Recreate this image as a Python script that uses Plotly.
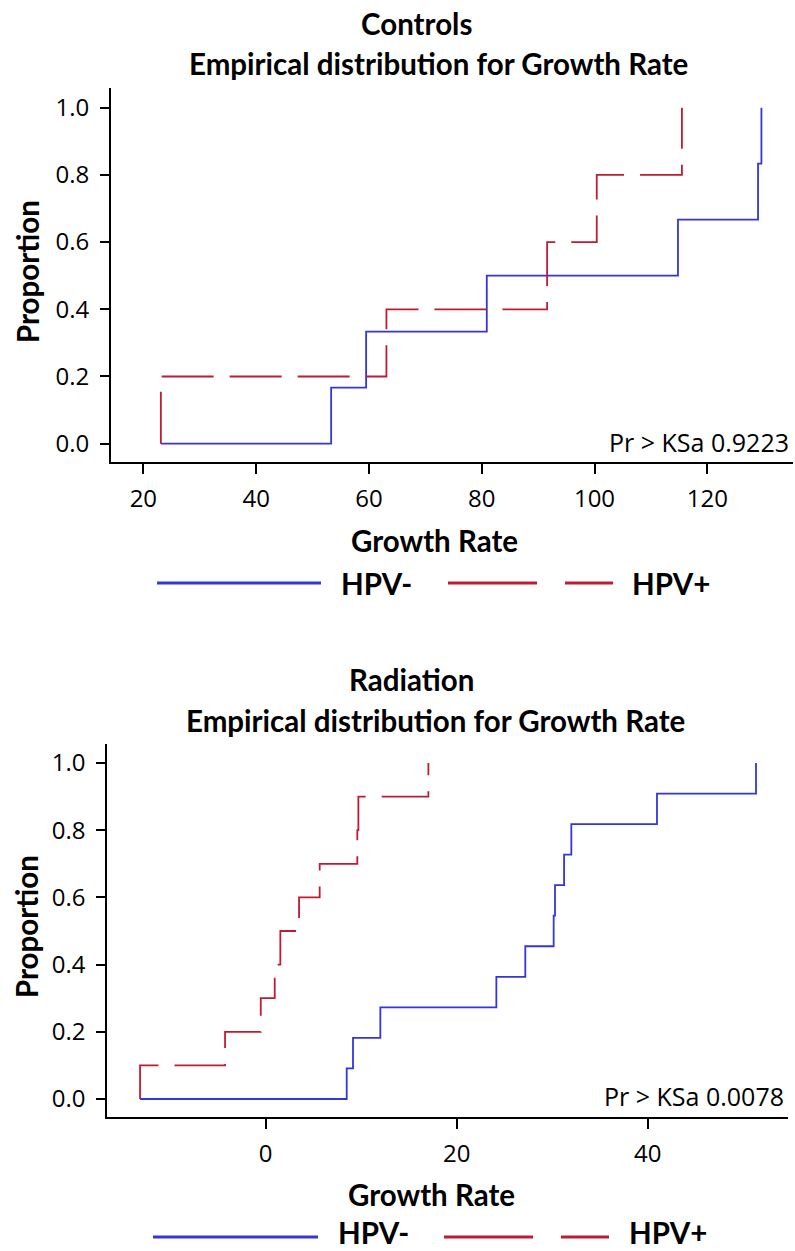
import plotly.graph_objects as go

# ---- data ----
groups = ["HPV-", "HPV+"]
ctrl_hpv_neg = [53.3, 59.5, 80.9, 114.8, 129.0, 129.6]
ctrl_hpv_pos = [23.1, 63.1, 91.6, 100.4, 115.5]
rad_hpv_neg = [8.48, 9.14, 12.0, 24.15, 27.18, 30.15, 30.29, 31.24, 32.0, 40.97, 51.34]
rad_hpv_pos = [-13.16, -4.26, -0.52, 0.94, 1.53, 3.49, 5.65, 9.59, 9.7, 17.03]
ctrl_xticks = [20, 40, 60, 80, 100, 120]
rad_xticks = [0, 20, 40]
yticks = [0.0, 0.2, 0.4, 0.6, 0.8, 1.0]
ks_ctrl = "Pr > KSa 0.9223"
ks_rad = "Pr > KSa 0.0078"

W, H = 795, 1251
BLUE = "#3535DC"
RED = "#C01B35"
TICKFONT = dict(family="Open Sans", size=24, color="black")
KSFONT = dict(family="Open Sans", size=25, color="black")
BOLD = "Lato"
BSIZE = 29.5


def ecdf(vals, start):
    v = sorted(vals)
    n = len(v)
    xs = [start] + v
    ys = [0.0] + [(i + 1) / n for i in range(n)]
    return xs, ys


def px(x):
    return x / W


def py(y):
    return 1 - y / H


fig = go.Figure()

panels = [
    dict(neg=ctrl_hpv_neg, pos=ctrl_hpv_pos, xa="x", ya="y", ticks=ctrl_xticks,
         xdom=(111, 793), ydom=(88, 462), xr=[14.26, 135.2], yr=[-0.0545, 1.0586],
         t1="Controls", t1y=23, t1x=416, t2y=63, t2x=438, gr_y=540, gr_x=434,
         prop_y=272, ks=ks_ctrl, ks_y=442, ks_x=791, leg_y=583, leg_txt_y=583,
         leg=(157, 321, 339, 448, 613, 630)),
    dict(neg=rad_hpv_neg, pos=rad_hpv_pos, xa="x2", ya="y2", ticks=rad_xticks,
         xdom=(107.3, 788.3), ydom=(744, 1117), xr=[-16.59, 54.72], yr=[-0.0536, 1.0565],
         t1="Radiation", t1y=679, t1x=411, t2y=720, t2x=435, gr_y=1194, gr_x=431,
         prop_y=927, ks=ks_rad, ks_y=1096, ks_x=786, leg_y=1237, leg_txt_y=1232,
         leg=(153, 318, 336, 444, 609, 627)),
]

for i, p in enumerate(panels):
    start = min(min(p["neg"]), min(p["pos"]))
    xn, yn = ecdf(p["neg"], start)
    xp, yp = ecdf(p["pos"], start)
    fig.add_trace(go.Scatter(x=xn, y=yn, mode="lines", line_shape="hv",
                             line=dict(color=BLUE, width=1.8), name=groups[0],
                             xaxis=p["xa"], yaxis=p["ya"], showlegend=False))
    fig.add_trace(go.Scatter(x=xp, y=yp, mode="lines", line_shape="hv",
                             line=dict(color=RED, width=1.8, dash="52px,16px"), name=groups[1],
                             xaxis=p["xa"], yaxis=p["ya"], showlegend=False))

    axname = "" if i == 0 else "2"
    fig.update_layout(**{
        "xaxis" + axname: dict(domain=[px(p["xdom"][0]), px(p["xdom"][1])], range=p["xr"],
                               anchor="y" + axname, tickvals=p["ticks"], ticks="outside",
                               ticklen=10, tickwidth=1.6, tickcolor="black", showline=True,
                               linecolor="black", linewidth=1.8, showgrid=False, zeroline=False,
                               tickfont=TICKFONT, ticklabelstandoff=4),
        "yaxis" + axname: dict(domain=[py(p["ydom"][1]), py(p["ydom"][0])], range=p["yr"],
                               anchor="x" + axname, tickvals=yticks, tickformat=".1f",
                               ticks="outside", ticklen=9, tickwidth=1.6, tickcolor="black",
                               showline=True, linecolor="black", linewidth=1.8, showgrid=False,
                               zeroline=False, tickfont=TICKFONT, ticklabelstandoff=6),
    })

    ann = [
        dict(text=p["t1"], x=px(p["t1x"]), y=py(p["t1y"])),
        dict(text="Empirical distribution for Growth Rate", x=px(p["t2x"]), y=py(p["t2y"])),
        dict(text="Growth Rate", x=px(p["gr_x"]), y=py(p["gr_y"])),
    ]
    for a in ann:
        fig.add_annotation(text="<b>%s</b>" % a["text"], x=a["x"], y=a["y"], xref="paper",
                           yref="paper", showarrow=False, xanchor="center", yanchor="middle",
                           font=dict(family=BOLD, size=BSIZE, color="black"))
    fig.add_annotation(text="<b>Proportion</b>", x=px(27), y=py(p["prop_y"]), xref="paper",
                       yref="paper", showarrow=False, textangle=-90, xanchor="center",
                       yanchor="middle", font=dict(family=BOLD, size=BSIZE, color="black"))
    fig.add_annotation(text=p["ks"], x=px(p["ks_x"]), y=py(p["ks_y"]), xref="paper",
                       yref="paper", showarrow=False, xanchor="right", yanchor="middle",
                       font=KSFONT)

    # legend
    b0, b1, tneg, r0, r1, tpos = p["leg"]
    ly = py(p["leg_y"])
    ty = py(p["leg_txt_y"])
    fig.add_shape(type="line", xref="paper", yref="paper", x0=px(b0), x1=px(b1), y0=ly, y1=ly,
                  line=dict(color=BLUE, width=3))
    fig.add_shape(type="line", xref="paper", yref="paper", x0=px(r0), x1=px(r1), y0=ly, y1=ly,
                  line=dict(color=RED, width=3, dash="89px,28px"))
    fig.add_annotation(text="<b>%s</b>" % groups[0], x=px(tneg), y=ty, xref="paper", yref="paper",
                       showarrow=False, xanchor="left", yanchor="middle",
                       font=dict(family=BOLD, size=BSIZE, color="black"))
    fig.add_annotation(text="<b>%s</b>" % groups[1], x=px(tpos), y=ty, xref="paper", yref="paper",
                       showarrow=False, xanchor="left", yanchor="middle",
                       font=dict(family=BOLD, size=BSIZE, color="black"))

fig.update_layout(width=W, height=H, margin=dict(l=0, r=0, t=0, b=0),
                  paper_bgcolor="white", plot_bgcolor="white", showlegend=False)

fig.write_html("out.html")
